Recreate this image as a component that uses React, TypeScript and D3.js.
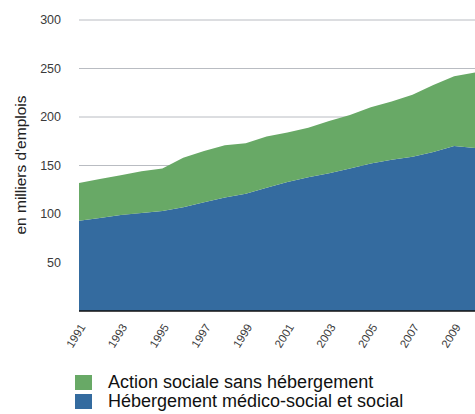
import { useMemo } from 'react';
import { area, scaleLinear, stack } from 'd3';

const years = [1991, 1992, 1993, 1994, 1995, 1996, 1997, 1998, 1999, 2000, 2001, 2002, 2003, 2004, 2005, 2006, 2007, 2008, 2009, 2010];
const hebergement = [93, 96, 99, 101, 103, 107, 112, 117, 121, 127, 133, 138, 142, 147, 152, 156, 159, 164, 170, 168];
const actionSociale = [39, 40, 41, 43, 44, 51, 53, 54, 52, 53, 51, 51, 54, 55, 58, 60, 64, 69, 72, 78];
const yTicks = [50, 100, 150, 200, 250, 300];
const xTickYears = [1991, 1993, 1995, 1997, 1999, 2001, 2003, 2005, 2007, 2009];
const seriesLabels = ['Hébergement médico-social et social', 'Action sociale sans hébergement'];

const GREEN = '#68a966';
const BLUE = '#346b9f';
const FONT = '"Liberation Sans", Arial, Helvetica, sans-serif';

export default function App() {
  const width = 475;
  const height = 414;
  const margin = { left: 79, right: 0, top: 20, bottom: 103 };

  const x = scaleLinear().domain([1991, 2010]).range([margin.left, width - margin.right]);
  const y = scaleLinear().domain([0, 300]).range([height - margin.bottom, margin.top]);

  const rows = useMemo(
    () => years.map((year, i) => ({ year, heb: hebergement[i], act: actionSociale[i] })),
    []
  );
  const layers = useMemo(() => stack<{ year: number; heb: number; act: number }>().keys(['heb', 'act'])(rows), [rows]);

  const areaGen = area<any>()
    .x((d) => x(d.data.year))
    .y0((d) => y(d[0]))
    .y1((d) => y(d[1]));

  const colors = [BLUE, GREEN];

  return (
    <div style={{ position: 'fixed', left: 0, top: 0 }}>
      <svg width={width} height={height} style={{ display: 'block', background: '#fff' }} fontFamily={FONT}>
        {yTicks.map((t) => (
          <g key={t}>
            <line x1={margin.left} x2={width} y1={y(t)} y2={y(t)} stroke="#b9bcc2" strokeWidth={1} />
            <text x={61} y={y(t)} dy="0.35em" textAnchor="end" fontSize={12.5} fill="#3a3a3a">
              {t}
            </text>
          </g>
        ))}
        {layers.map((layer, i) => (
          <path key={layer.key} d={areaGen(layer) ?? ''} fill={colors[i]} />
        ))}
        <line x1={margin.left} x2={width} y1={y(0)} y2={y(0)} stroke="#111" strokeWidth={1.5} />
        {xTickYears.map((yr) => (
          <text
            key={yr}
            transform={`translate(${x(yr) + 7}, ${y(0) + 16}) rotate(-58)`}
            textAnchor="end"
            fontSize={11.5}
            fill="#3a3a3a"
          >
            {yr}
          </text>
        ))}
        <text transform={`translate(26, 165) rotate(-90)`} textAnchor="middle" fontSize={15.5} fill="#222">
          en milliers d'emplois
        </text>
        {[1, 0].map((k, i) => (
          <g key={k} transform={`translate(75, ${375 + i * 19})`}>
            <rect width={17} height={15} fill={colors[k]} />
            <text x={33} y={13} fontSize={18} fill="#111">
              {seriesLabels[k]}
            </text>
          </g>
        ))}
      </svg>
    </div>
  );
}
